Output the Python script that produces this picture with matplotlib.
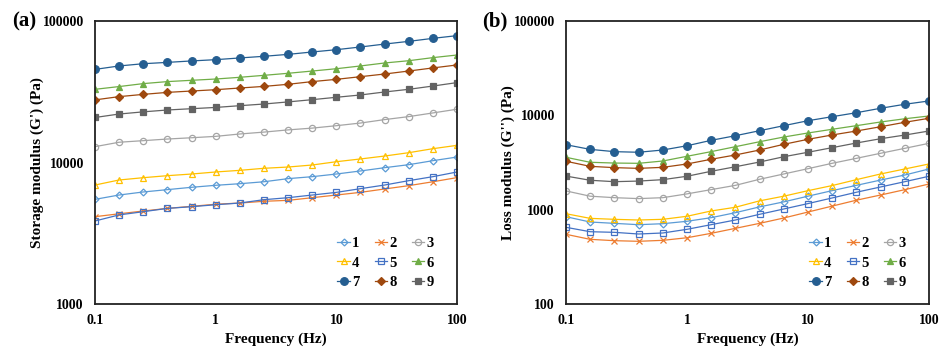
import numpy as np
import matplotlib.pyplot as plt
from matplotlib.ticker import FixedLocator, FixedFormatter

# frequency sweep, 16 points per decade-step of 0.2
freq = [0.1, 0.158, 0.251, 0.398, 0.631, 1.0, 1.58, 2.51, 3.98, 6.31,
        10.0, 15.8, 25.1, 39.8, 63.1, 100.0]

labels = ['1', '2', '3', '4', '5', '6', '7', '8', '9']

# storage modulus G' (Pa), panel (a)
g1_1 = [5490, 5890, 6190, 6430, 6680, 6900, 7080, 7310, 7690, 7940, 8290, 8710, 9190, 9650, 10300, 10930]
g1_2 = [4140, 4340, 4540, 4740, 4900, 5070, 5170, 5320, 5400, 5640, 5890, 6150, 6500, 6860, 7310, 7820]
g1_3 = [12940, 13900, 14270, 14650, 14960, 15300, 15900, 16400, 17000, 17500, 18200, 19000, 20100, 21100, 22400, 23800]
g1_4 = [6930, 7520, 7810, 8070, 8290, 8570, 8800, 9100, 9290, 9600, 10130, 10590, 11110, 11730, 12520, 13220]
g1_5 = [3860, 4260, 4490, 4740, 4870, 5030, 5170, 5460, 5640, 5890, 6150, 6530, 6930, 7440, 7940, 8570]
g1_6 = [32900, 34400, 36100, 37300, 38100, 38900, 40000, 41300, 42700, 44300, 46000, 48100, 50500, 52400, 55100, 57500]
g1_7 = [45500, 48100, 49900, 51000, 52200, 53300, 54800, 56300, 58100, 60400, 62700, 65500, 68700, 71800, 75400, 78800]
g1_8 = [27700, 29200, 30300, 31300, 32000, 32700, 33600, 34500, 35700, 37300, 38700, 40400, 42200, 44300, 46600, 48900]
g1_9 = [20800, 22000, 22800, 23500, 24000, 24500, 25200, 25900, 26800, 27800, 28900, 30000, 31500, 32900, 34700, 36700]

# loss modulus G'' (Pa), panel (b)
g2_1 = [842, 740, 716, 693, 710, 753, 822, 929, 1070, 1210, 1390, 1590, 1810, 2060, 2330, 2700]
g2_2 = [548, 485, 469, 462, 473, 504, 561, 634, 716, 816, 944, 1090, 1260, 1430, 1630, 1870]
g2_3 = [1580, 1390, 1340, 1310, 1340, 1470, 1630, 1810, 2100, 2390, 2720, 3100, 3500, 3960, 4470, 5050]
g2_4 = [906, 809, 790, 777, 790, 851, 968, 1060, 1240, 1390, 1590, 1800, 2080, 2390, 2700, 3050]
g2_5 = [650, 584, 575, 552, 566, 619, 693, 777, 893, 1017, 1160, 1330, 1530, 1740, 1980, 2260]
g2_6 = [3590, 3180, 3120, 3100, 3280, 3680, 4120, 4650, 5250, 5890, 6500, 7110, 7770, 8500, 9200, 9840]
g2_7 = [4880, 4360, 4120, 4060, 4290, 4760, 5430, 6080, 6870, 7770, 8770, 9670, 10660, 11880, 13100, 14200]
g2_8 = [3260, 2880, 2790, 2740, 2810, 3050, 3420, 3800, 4290, 4930, 5570, 6190, 6820, 7570, 8440, 9300]
g2_9 = [2270, 2050, 1980, 2010, 2080, 2260, 2550, 2850, 3200, 3640, 4060, 4540, 5090, 5650, 6180, 6820]

storage = [g1_1, g1_2, g1_3, g1_4, g1_5, g1_6, g1_7, g1_8, g1_9]
loss = [g2_1, g2_2, g2_3, g2_4, g2_5, g2_6, g2_7, g2_8, g2_9]

# excel-like styles: colour, marker, filled?
colors = ['#5B9BD5', '#ED7D31', '#A5A5A5', '#FFC000', '#4472C4',
          '#70AD47', '#255E91', '#9E480E', '#636363']
markers = ['D', 'x', 'o', '^', 's', '^', 'o', 'D', 's']
filled = [False, False, False, False, False, True, True, True, True]
msizes = [3.5, 5, 4.5, 5, 5, 5, 5.5, 4, 5]

serif = ['Liberation Serif', 'DejaVu Serif']
plt.rcParams['font.family'] = serif
plt.rcParams['font.weight'] = 'bold'

fig = plt.figure(figsize=(9.45, 3.51), dpi=100)
ax1 = fig.add_axes([95/945, 47/351, 362/945, 283/351])
ax2 = fig.add_axes([566/945, 47/351, 363/945, 283/351])


def draw(ax, data, ylim, yticks, ylabel, tag):
    lines = []
    for i, y in enumerate(data):
        fc = colors[i] if filled[i] else 'none'
        ln, = ax.plot(freq, y, color=colors[i], lw=0.9, marker=markers[i], ms=msizes[i],
                      mfc=fc, mec=colors[i], mew=0.9, label=labels[i])
        lines.append(ln)
    ax.set_xscale('log')
    ax.set_yscale('log')
    ax.set_xlim(0.1, 100)
    ax.set_ylim(*ylim)
    ax.xaxis.set_major_locator(FixedLocator([0.1, 1, 10, 100]))
    ax.xaxis.set_major_formatter(FixedFormatter(['0.1', '1', '10', '100']))
    ax.xaxis.set_minor_locator(FixedLocator([]))
    ax.yaxis.set_major_locator(FixedLocator(yticks))
    ax.yaxis.set_major_formatter(FixedFormatter([str(t) for t in yticks]))
    ax.yaxis.set_minor_locator(FixedLocator([]))
    ax.tick_params(axis='y', length=0, labelsize=10, pad=8)
    ax.tick_params(axis='x', length=0, labelsize=10, pad=7)
    for lab in ax.get_xticklabels() + ax.get_yticklabels():
        lab.set_fontweight('bold')
    for sp in ax.spines.values():
        sp.set_linewidth(1.3)
        sp.set_color('#222222')
    ax.set_xlabel('Frequency (Hz)', fontsize=11, fontweight='bold', labelpad=4)
    ax.set_ylabel(ylabel, fontsize=11, fontweight='bold', labelpad=-1)
    ax.text(-0.23, 1.0, tag, transform=ax.transAxes, fontsize=15,
            fontweight='bold', ha='left', va='center')
    # legend reads row by row: 1 2 3 / 4 5 6 / 7 8 9
    order = [0, 3, 6, 1, 4, 7, 2, 5, 8]
    leg = ax.legend([lines[k] for k in order], [labels[k] for k in order],
                    ncol=3, loc='lower right', frameon=False, fontsize=10.5,
                    handlelength=0.85, handletextpad=0.15, columnspacing=1.05,
                    labelspacing=0.45, borderpad=0, borderaxespad=0,
                    bbox_to_anchor=(0.936, 0.052))
    for t in leg.get_texts():
        t.set_fontweight('bold')


draw(ax1, storage, (1000, 100000), [1000, 10000, 100000],
     "Storage modulus (G') (Pa)", '(a)')
draw(ax2, loss, (100, 100000), [100, 1000, 10000, 100000],
     "Loss modulus (G'') (Pa)", '(b)')

fig.savefig('out.png', dpi=100)
